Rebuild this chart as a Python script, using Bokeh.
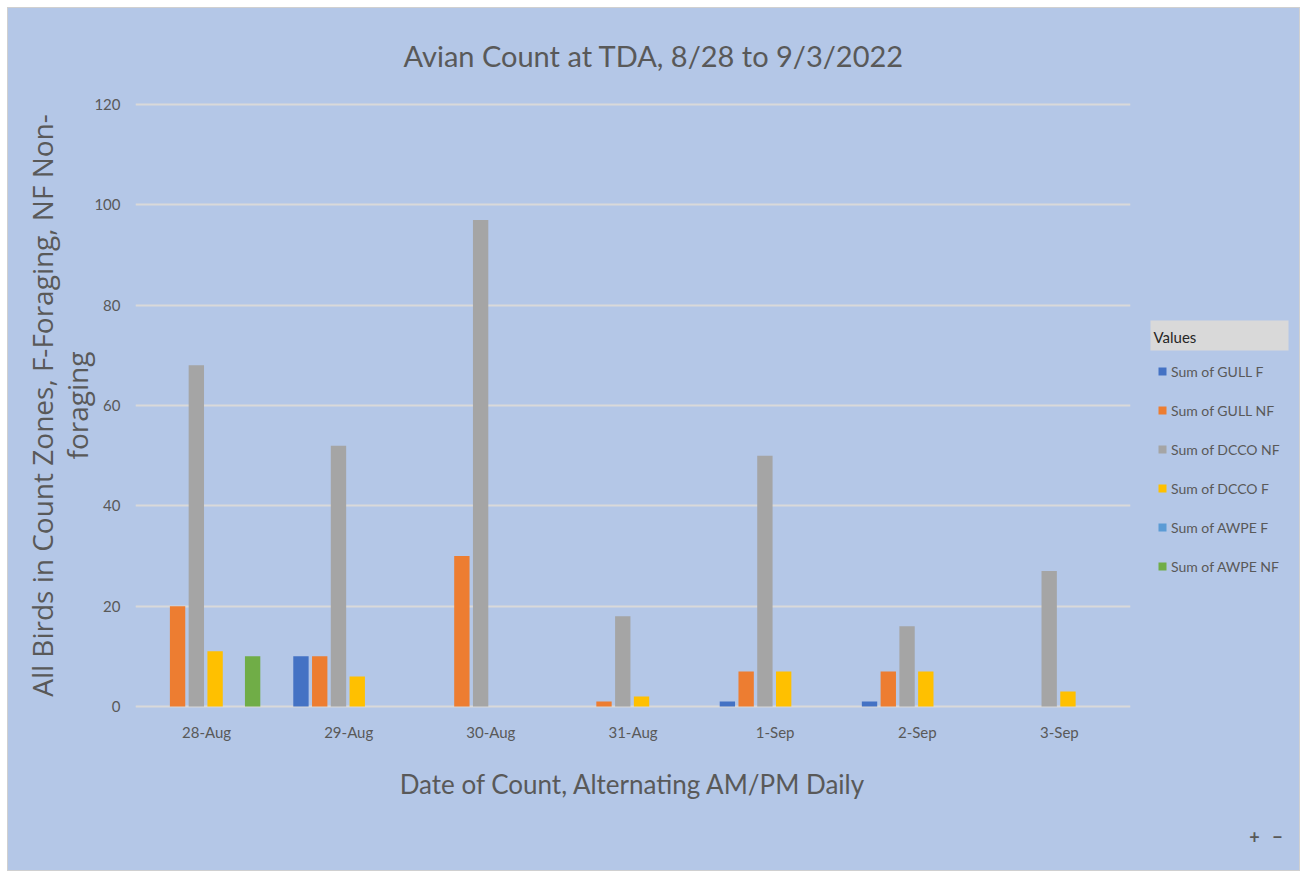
from bokeh.plotting import figure
from bokeh.layouts import row, column
from bokeh.models import (FactorRange, Range1d, Legend, LegendItem, Label, Title,
                          BoxAnnotation, ColumnDataSource, FixedTicker, Spacer)
from bokeh.transform import dodge
from bokeh.embed import file_html
from bokeh.resources import INLINE

# ---- data ----
dates = ["28-Aug", "29-Aug", "30-Aug", "31-Aug", "1-Sep", "2-Sep", "3-Sep"]
series_names = ["Sum of GULL F", "Sum of GULL NF", "Sum of DCCO NF",
                "Sum of DCCO F", "Sum of AWPE F", "Sum of AWPE NF"]
gull_f = [0, 10, 0, 0, 1, 1, 0]
gull_nf = [20, 10, 30, 1, 7, 7, 0]
dcco_nf = [68, 52, 97, 18, 50, 16, 27]
dcco_f = [11, 6, 0, 2, 7, 7, 3]
awpe_f = [0, 0, 0, 0, 0, 0, 0]
awpe_nf = [10, 0, 0, 0, 0, 0, 0]
y_ticks = [0, 20, 40, 60, 80, 100, 120]

series_values = [gull_f, gull_nf, dcco_nf, dcco_f, awpe_f, awpe_nf]
colors = ["#4472C4", "#ED7D31", "#A5A5A5", "#FFC000", "#5B9BD5", "#70AD47"]

BG = "#B4C7E7"
TXT = "#595959"
FONT = "Lato"

# ---------------- main chart ----------------
p = figure(width=1132, height=862, x_range=FactorRange(*dates),
           y_range=Range1d(-0.4, 120.4), output_backend="svg", toolbar_location=None,
           min_border_left=127, min_border_right=10, min_border_top=94,
           min_border_bottom=162)
p.background_fill_color = BG
p.border_fill_color = BG
p.outline_line_color = None
p.styles = {"background-color": BG}

p.title.text = "Avian Count at TDA, 8/28 to 9/3/2022"
p.title.align = "left"
p.title.offset = 268
p.title.text_font = FONT
p.title.text_font_size = "29px"
p.title.text_font_style = "normal"
p.title.text_color = TXT
p.title.vertical_align = "top"
p.title.standoff = 55

src = ColumnDataSource(dict(date=dates, **{f"s{i}": v for i, v in enumerate(series_values)}))

step = 0.132
bw = 0.108
for i, col in enumerate(colors):
    off = (i - 2.5) * step - 0.006
    p.vbar(x=dodge("date", off, range=p.x_range), top=f"s{i}", width=bw,
           source=src, fill_color=col, line_color=None)

p.xgrid.grid_line_color = None
p.ygrid.grid_line_color = "#D9D9D9"
p.ygrid.grid_line_width = 2
p.yaxis.ticker = FixedTicker(ticks=y_ticks)

for ax in (p.xaxis, p.yaxis):
    ax.axis_line_color = None
    ax.major_tick_line_color = None
    ax.minor_tick_line_color = None
    ax.major_label_text_color = TXT
    ax.major_label_text_font = FONT
    ax.major_label_text_font_size = "15px"
p.yaxis.major_label_standoff = 9
p.xaxis.major_label_standoff = 8
p.xaxis.axis_label = "Date of Count, Alternating AM/PM Daily"
p.xaxis.axis_label_text_font = FONT
p.xaxis.axis_label_text_font_size = "26px"
p.xaxis.axis_label_text_font_style = "normal"
p.xaxis.axis_label_text_color = TXT
p.xaxis.axis_label_standoff = 24


def ytitle(txt, so):
    kw = dict(text=txt, align="center", text_font="Open Sans", text_font_size="28px",
              text_font_style="normal", text_color=TXT)
    try:
        return Title(standoff=so, **kw)
    except Exception:
        return Title(standoff=0, **kw)


p.add_layout(ytitle("foraging", -9), "left")
p.add_layout(ytitle("All Birds in Count Zones, F-Foraging, NF Non-", -1), "left")

# ---------------- legend panel ----------------
q = figure(width=159, height=862, x_range=Range1d(0, 159), y_range=Range1d(0, 606),
           output_backend="svg", toolbar_location=None, min_border_left=0,
           min_border_right=0, y_axis_location=None)
q.background_fill_color = BG
q.border_fill_color = BG
q.outline_line_color = None
q.grid.visible = False
q.styles = {"background-color": BG}

# zoom buttons drawn as the tick labels of the panel's bottom axis
q.xaxis.ticker = FixedTicker(ticks=[114, 137])
q.xaxis.major_label_overrides = {114: "+", 137: "\u2212"}
q.xaxis.axis_line_color = None
q.xaxis.major_tick_line_color = None
q.xaxis.minor_tick_line_color = None
q.xaxis.major_tick_out = 0
q.xaxis.major_tick_in = 0
q.xaxis.minor_tick_out = 0
q.xaxis.major_label_standoff = 121
q.xaxis.major_label_text_font = FONT
q.xaxis.major_label_text_font_size = "18px"
q.xaxis.major_label_text_font_style = "bold"
q.xaxis.major_label_text_color = TXT
try:
    q.xaxis.major_label_background_fill_color = "#D9D9D9"
    q.xaxis.major_label_border_line_color = "#C4C4C4"
except Exception:
    pass

legend_glyphs = [q.vbar(x=[0], top=[0], width=0, fill_color=c, line_color=None)
                 for c in colors]

q.add_layout(BoxAnnotation(left=10, right=148, bottom=358, top=388,
                           left_units="screen", right_units="screen",
                           top_units="screen", bottom_units="screen",
                           fill_color="#D9D9D9", fill_alpha=1.0, line_color=None))
q.add_layout(Label(x=13, y=372, x_units="screen", y_units="screen", text="Values",
                   text_align="left", text_baseline="middle", text_font=FONT,
                   text_font_size="15px", text_color="#262626"))

legend = Legend(items=[LegendItem(label=n, renderers=[r]) for n, r in zip(series_names, legend_glyphs)],
                location=(17, 132),
                label_text_font=FONT, label_text_font_size="14px",
                label_text_color=TXT, glyph_width=10, glyph_height=10,
                label_standoff=4, spacing=19, label_height=20,
                padding=0, margin=0, border_line_color=None,
                background_fill_alpha=0)
q.add_layout(legend)

inner = row(p, q, styles={"outline": "1px solid #D0D0D0"})
layout = column(Spacer(height=8), row(Spacer(width=8), inner))
open("out.html", "w").write(file_html(layout, INLINE))
